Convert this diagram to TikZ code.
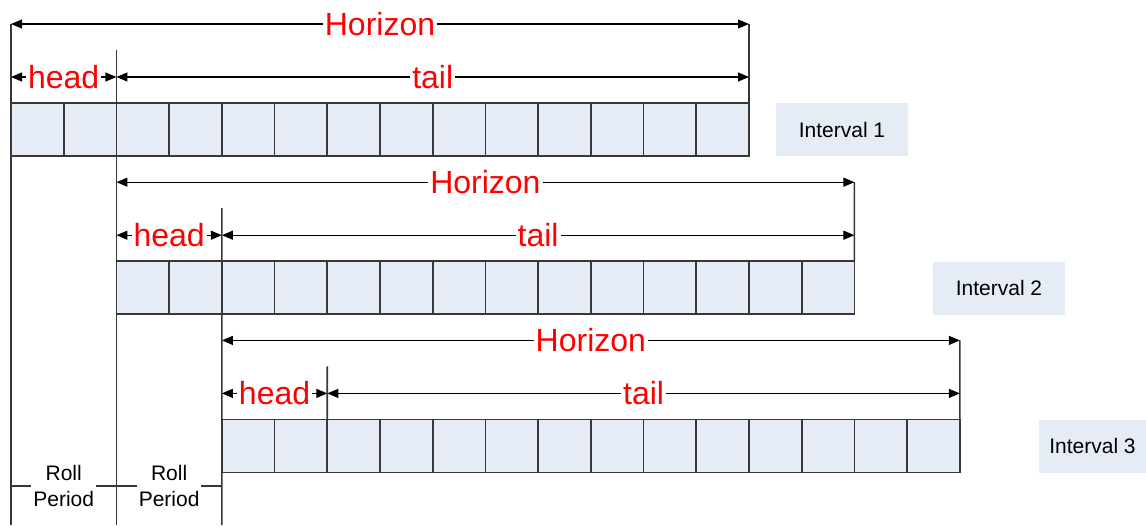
\documentclass[tikz,border=0pt]{standalone}
\usepackage{fontspec}
\setmainfont{Liberation Sans}
\usetikzlibrary{arrows.meta}
\definecolor{cellfill}{HTML}{E6ECF6}
\definecolor{cellline}{HTML}{383838}
\begin{document}
\begin{tikzpicture}[x=1pt,y=-1pt,
  cell/.style={draw=cellline, fill=cellfill, line width=1.6pt, minimum width=52.714pt, minimum height=53pt, inner sep=0pt, outer sep=0pt, anchor=north west},
  dim/.style={line width=1.1pt, draw=black, {Triangle[length=11pt,width=9pt]}-{Triangle[length=11pt,width=9pt]}},
  rlabel/.style={text=red, font=\fontsize{32}{34}\selectfont, fill=white, inner xsep=2pt, inner ysep=0pt},
  vline/.style={draw=cellline, line width=1.6pt},
  ibox/.style={fill=cellfill, minimum width=132pt, minimum height=53pt, inner sep=0pt, font=\fontsize{21}{24}\selectfont},
  roll/.style={fill=white, align=center, inner xsep=2pt, inner ysep=0pt, font=\fontsize{21}{26}\selectfont},
  rline/.style={draw=cellline, line width=1.1pt}
]
\useasboundingbox (0,0) rectangle (1146,525);
\foreach \i in {1,2,3}{
  \pgfmathsetmacro{\xo}{11+(\i-1)*105.43}
  \pgfmathsetmacro{\yo}{(\i-1)*158.2}
  \coordinate (L\i) at (\xo, 24+\yo);
  \coordinate (R\i) at (\xo+738, 24+\yo);
  \coordinate (HL\i) at (\xo, 77+\yo);
  \coordinate (HM\i) at (\xo+105.43, 77+\yo);
  \coordinate (HR\i) at (\xo+738, 77+\yo);
  \coordinate (D\i) at (\xo+105.43, 50+\yo);
  \foreach \j in {1,...,14}
    \node[cell] (c\i-\j) at (\xo+\j*52.714-52.714, 103+\yo) {};
  \draw[vline] (R\i) -- (c\i-14.north east);
  \draw[dim] (L\i) -- node[rlabel]{Horizon} (R\i);
  \draw[dim] (HL\i) -- node[rlabel]{head} (HM\i);
  \draw[dim] (HM\i) -- node[rlabel]{tail} (HR\i);
}
% long vertical lines
\coordinate (B0) at (11,525);
\coordinate (B1) at (116.43,525);
\coordinate (B2) at (221.86,525);
\draw[vline] (L1) -- (B0);
\draw[vline] (D1) -- (B1);
\draw[vline] (D2) -- (B2);
\draw[vline] (D3) -- (c3-3.north west);
% roll periods
\coordinate (P0) at (11,486);
\coordinate (P1) at (116.43,486);
\coordinate (P2) at (221.86,486);
\draw[rline] (P0) -- node[roll]{Roll\\Period} (P1);
\draw[rline] (P1) -- node[roll]{Roll\\Period} (P2);
% interval labels
\node[ibox] (i1) at (842,129.5) {Interval 1};
\node[ibox] (i2) at (999,288) {Interval 2};
\node[ibox, minimum width=107pt] (i3) at (1092.5,446) {Interval 3};
\end{tikzpicture}
\end{document}
